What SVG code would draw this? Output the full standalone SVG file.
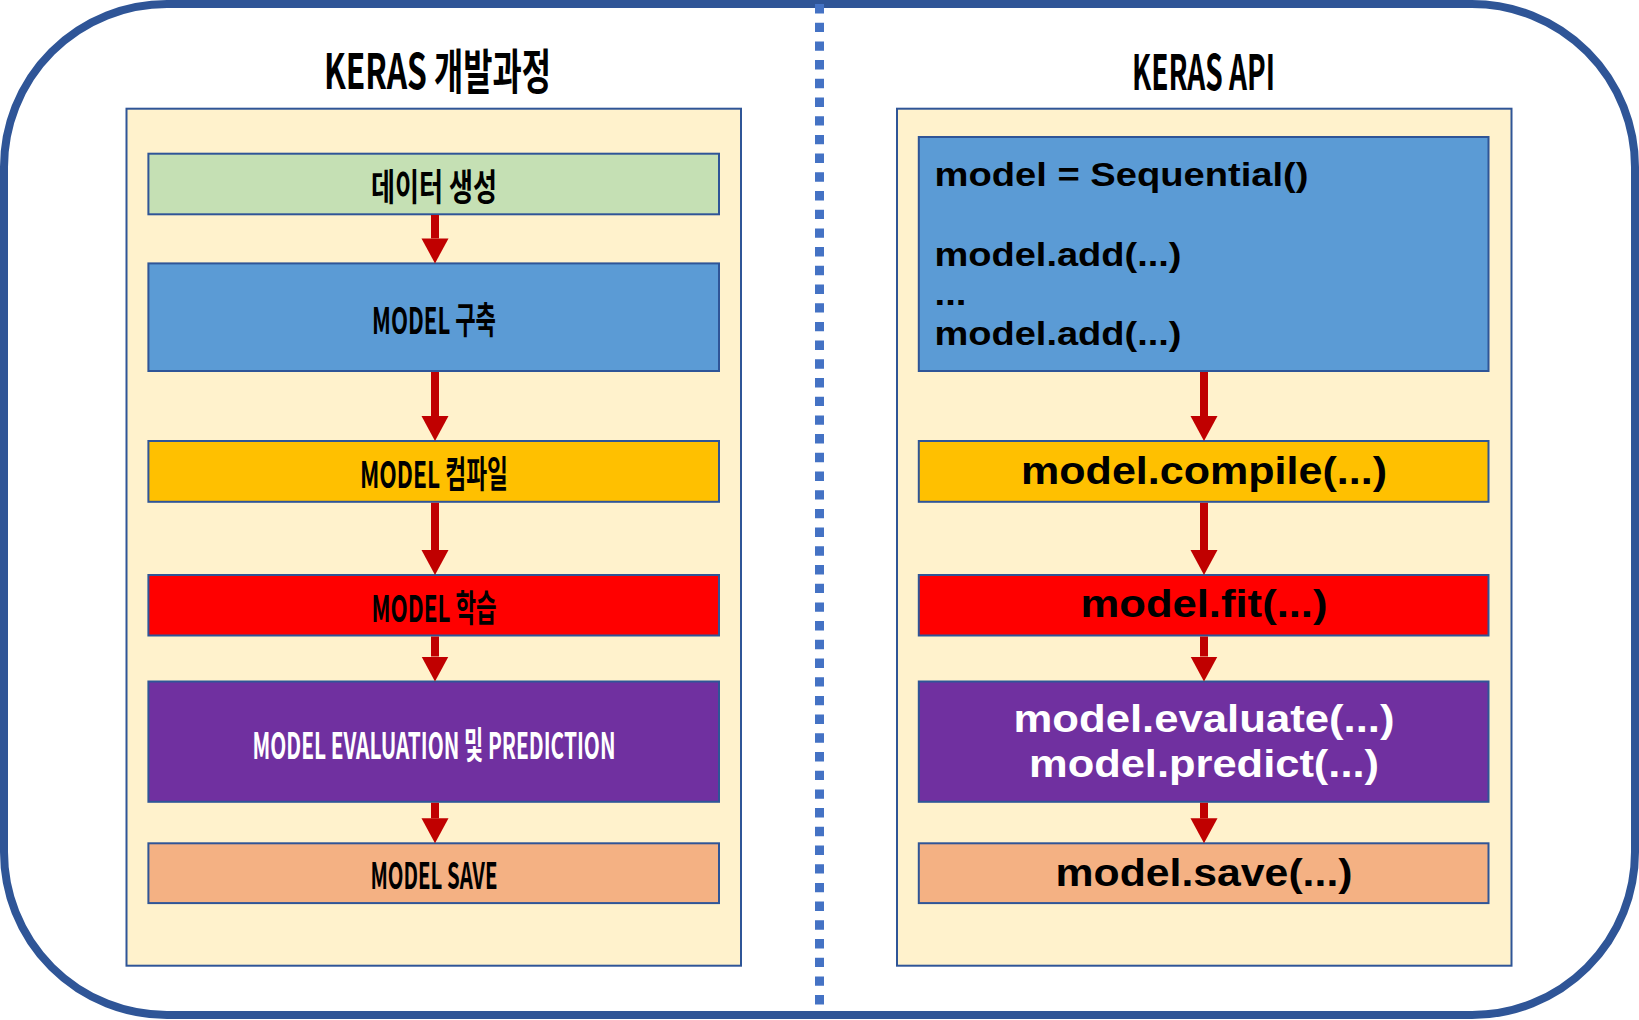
<svg xmlns="http://www.w3.org/2000/svg" width="1639" height="1020" viewBox="0 0 1639 1020">
  <style>
    .panel { fill: #FFF2CC; stroke: #2F5597; stroke-width: 2; }
    .box { stroke: #2F5597; stroke-width: 2; }
    .lbl { font-family: "Noto Sans CJK KR", "Noto Sans", sans-serif; font-weight: 700; font-size: 37px; fill: #000; text-anchor: middle; }
    .title { font-family: "Noto Sans CJK KR", "Noto Sans", sans-serif; font-weight: 700; font-size: 48px; fill: #000; text-anchor: middle; }
    .code { font-family: "Liberation Sans", Arial, sans-serif; font-weight: 700; font-size: 38px; fill: #000; text-anchor: middle; }
    .code1 { font-family: "Liberation Sans", Arial, sans-serif; font-weight: 700; font-size: 33px; fill: #000; }
    .white { fill: #FFFFFF; }
    .conn line { stroke: #C00000; stroke-width: 8; }
  </style>
  <defs>
    <marker id="ah" markerUnits="userSpaceOnUse" markerWidth="26" markerHeight="28" viewBox="0 0 26 28" refX="0" refY="14" orient="auto">
      <path d="M0,0.5 L25,14 L0,27.5 Z" fill="#C00000"/>
    </marker>
  </defs>

  <rect x="4" y="4" width="1631" height="1011" rx="163" ry="163" fill="#FFFFFF" stroke="#2F5597" stroke-width="8"/>
  <line x1="819.5" y1="4" x2="819.5" y2="1010" stroke="#4472C4" stroke-width="9" stroke-dasharray="9.4 9.3"/>

  <g id="title-left"><text class="title" x="437.5" y="89" textLength="227" lengthAdjust="spacingAndGlyphs">KERAS 개발과정</text></g>
  <g id="title-right"><text class="title" x="1203.5" y="90" textLength="143" lengthAdjust="spacingAndGlyphs">KERAS API</text></g>

  <g id="panel-left"><rect class="panel" x="126.5" y="108.7" width="614.5" height="857"/></g>
  <g id="panel-right"><rect class="panel" x="897" y="108.7" width="614.5" height="857"/></g>

  <g id="l1"><rect class="box" x="148.4" y="153.7" width="570.6" height="60.6" fill="#C5E0B4"/>
    <text class="lbl" x="434" y="201" textLength="126" lengthAdjust="spacingAndGlyphs">데이터 생성</text></g>
  <g id="l2"><rect class="box" x="148.4" y="263.4" width="570.6" height="107.6" fill="#5B9BD5"/>
    <text class="lbl" x="434" y="334" textLength="124" lengthAdjust="spacingAndGlyphs">MODEL 구축</text></g>
  <g id="l3"><rect class="box" x="148.4" y="441" width="570.6" height="60.8" fill="#FFC000"/>
    <text class="lbl" x="434" y="488" textLength="148" lengthAdjust="spacingAndGlyphs">MODEL 컴파일</text></g>
  <g id="l4"><rect class="box" x="148.4" y="575" width="570.6" height="60.5" fill="#FF0000"/>
    <text class="lbl" x="434" y="622" textLength="125" lengthAdjust="spacingAndGlyphs">MODEL 학습</text></g>
  <g id="l5"><rect class="box" x="148.4" y="681.5" width="570.6" height="120.3" fill="#7030A0"/>
    <text class="lbl white" x="434" y="759" textLength="363" lengthAdjust="spacingAndGlyphs">MODEL EVALUATION 및 PREDICTION</text></g>
  <g id="l6"><rect class="box" x="148.4" y="843.3" width="570.6" height="59.8" fill="#F4B183"/>
    <text class="lbl" x="434" y="889" textLength="127" lengthAdjust="spacingAndGlyphs">MODEL SAVE</text></g>

  <g id="r1"><rect class="box" x="918.8" y="137" width="569.7" height="234" fill="#5B9BD5"/>
    <text class="code1" x="934.5" y="186" textLength="374" lengthAdjust="spacingAndGlyphs">model = Sequential()</text>
    <text class="code1" x="934.5" y="266" textLength="247" lengthAdjust="spacingAndGlyphs">model.add(...)</text>
    <text class="code1" x="934.5" y="305" textLength="32" lengthAdjust="spacingAndGlyphs">...</text>
    <text class="code1" x="934.5" y="345" textLength="247" lengthAdjust="spacingAndGlyphs">model.add(...)</text></g>
  <g id="r2"><rect class="box" x="918.8" y="441" width="569.7" height="60.8" fill="#FFC000"/>
    <text class="code" x="1204" y="484" textLength="366" lengthAdjust="spacingAndGlyphs">model.compile(...)</text></g>
  <g id="r3"><rect class="box" x="918.8" y="575" width="569.7" height="60.5" fill="#FF0000"/>
    <text class="code" x="1204" y="617" textLength="247" lengthAdjust="spacingAndGlyphs">model.fit(...)</text></g>
  <g id="r4"><rect class="box" x="918.8" y="681.5" width="569.7" height="120.3" fill="#7030A0"/>
    <text class="code white" x="1204" y="731.5" textLength="381" lengthAdjust="spacingAndGlyphs">model.evaluate(...)</text>
    <text class="code white" x="1204" y="776.5" textLength="350" lengthAdjust="spacingAndGlyphs">model.predict(...)</text></g>
  <g id="r5"><rect class="box" x="918.8" y="843.3" width="569.7" height="59.8" fill="#F4B183"/>
    <text class="code" x="1204" y="886" textLength="297" lengthAdjust="spacingAndGlyphs">model.save(...)</text></g>

  <g id="connectors" class="conn">
    <line x1="435" y1="215" x2="435" y2="238.4" marker-end="url(#ah)"/>
    <line x1="435" y1="372" x2="435" y2="416" marker-end="url(#ah)"/>
    <line x1="435" y1="502.8" x2="435" y2="550" marker-end="url(#ah)"/>
    <line x1="435" y1="636.5" x2="435" y2="656.5" marker-end="url(#ah)"/>
    <line x1="435" y1="802.8" x2="435" y2="818.3" marker-end="url(#ah)"/>
    <line x1="1204" y1="372" x2="1204" y2="416" marker-end="url(#ah)"/>
    <line x1="1204" y1="502.8" x2="1204" y2="550" marker-end="url(#ah)"/>
    <line x1="1204" y1="636.5" x2="1204" y2="656.5" marker-end="url(#ah)"/>
    <line x1="1204" y1="802.8" x2="1204" y2="818.3" marker-end="url(#ah)"/>
  </g>
</svg>
